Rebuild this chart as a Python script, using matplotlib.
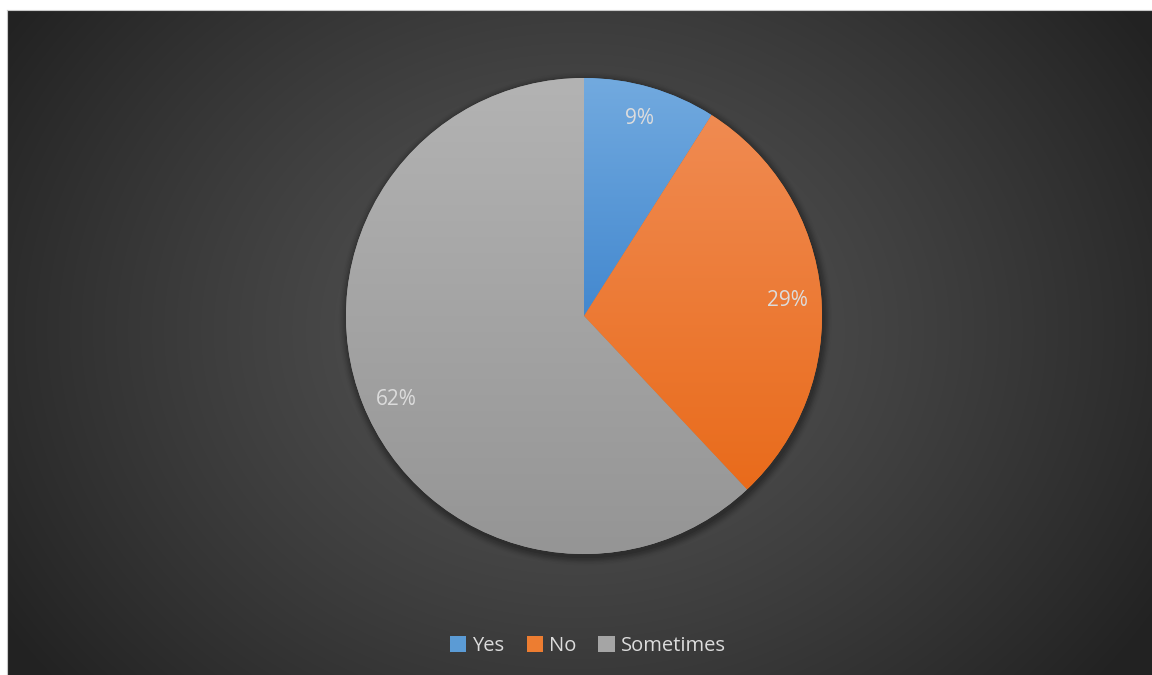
import numpy as np
import matplotlib
matplotlib.use("Agg")
import matplotlib.pyplot as plt
from matplotlib.patches import Patch, Circle
from matplotlib.colors import LinearSegmentedColormap

categories = ["Yes", "No", "Sometimes"]
shares = [9, 29, 62]
top_colors = ["#72aadf", "#f08b52", "#b3b3b3"]
bottom_colors = ["#4388cf", "#e96b1b", "#959595"]
legend_colors = ["#5b9bd5", "#ed7d31", "#a5a5a5"]

plt.rcParams["font.family"] = ["Open Sans", "DejaVu Sans"]

W, H = 1152, 675
fig = plt.figure(figsize=(W / 100, H / 100), dpi=100, facecolor="white")

# dark chart area with a soft radial glow
x0, y0 = 7, 10
bg = fig.add_axes([x0 / W, 0, (W - x0) / W, (H - y0) / H])
bg.set_axis_off()
gw, gh = W - x0, H - y0
yy, xx = np.mgrid[0:gh, 0:gw]
cx, cy = 575 - x0, 330 - y0
d = np.sqrt(((xx - cx) / 680.0) ** 2 + ((yy - cy) / 560.0) ** 2)
d = np.clip(d, 0, 1)
val = (0x54 - (0x54 - 0x22) * d ** 1.3) / 255.0
bg.imshow(np.dstack([val, val, val]), aspect="auto", extent=(0, 1, 0, 1),
          origin="upper", interpolation="bilinear")
bg.set_xlim(0, 1)
bg.set_ylim(0, 1)
# thin border line around the chart area
fig.add_artist(plt.Line2D([x0 / W, 1], [(H - y0) / H] * 2, color="#c8c8c8", lw=0.8))
fig.add_artist(plt.Line2D([x0 / W] * 2, [0, (H - y0) / H], color="#c8c8c8", lw=0.8))

# pie axes: centre (584, 316) px, radius 238 px
cxp, cyp, half = 584, 316, 250
R_PX = 238.0
ax = fig.add_axes([(cxp - half) / W, (H - cyp - half) / H, 2 * half / W, 2 * half / H])
ax.set_axis_off()
lim = half / R_PX

# soft drop shadow
for i, a in enumerate(np.linspace(0.10, 0.02, 6)):
    ax.add_patch(Circle((0.006, -0.012), 1.0 + 0.006 * (i + 1), color="black",
                        alpha=a, lw=0, zorder=0))

wedges, texts, autotexts = ax.pie(
    shares, startangle=90, counterclock=False, radius=1.0,
    colors=legend_colors, autopct="%1.0f%%", pctdistance=0.86,
    wedgeprops=dict(linewidth=0), frame=False,
    textprops=dict(color="#dcdcdc", fontsize=15))

# vertical gradient fill for each slice
for w, ct, cb in zip(wedges, top_colors, bottom_colors):
    ext = w.get_path().get_extents()
    cmap = LinearSegmentedColormap.from_list("g", [cb, ct])
    grad = np.linspace(0, 1, 256).reshape(-1, 1)
    im = ax.imshow(grad, cmap=cmap, origin="lower", aspect="auto",
                   extent=(ext.x0, ext.x1, ext.y0, ext.y1), zorder=1.5,
                   interpolation="bilinear")
    im.set_clip_path(w)

# small nudges (in pixels) for the percentage labels
nudges = [(-2, 1), (0, -3.5), (3, -8.5)]
for t, (dx, dy) in zip(autotexts, nudges):
    px, py = t.get_position()
    t.set_position((px + dx / R_PX, py + dy / R_PX))
    t.set_zorder(3)
ax.set_xlim(-lim, lim)
ax.set_ylim(-lim, lim)

handles = [Patch(facecolor=c, edgecolor="none", label=l)
           for c, l in zip(legend_colors, categories)]
fig.legend(handles=handles, loc="center", bbox_to_anchor=(588 / W, (H - 646) / H),
           ncol=3, frameon=False, handlelength=0.8, handleheight=0.8,
           handletextpad=0.3, columnspacing=1.1,
           prop=dict(size=14.5), labelcolor="#dcdcdc")

fig.savefig("out.png", dpi=100, facecolor="white")
